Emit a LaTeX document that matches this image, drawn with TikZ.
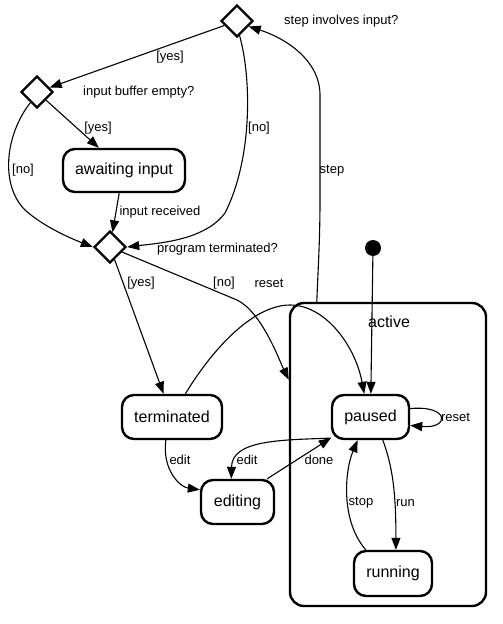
\documentclass[tikz,border=0pt]{standalone}
\usepackage{fontspec}
\setmainfont{Liberation Sans}
\usetikzlibrary{arrows.meta,shapes.geometric}
\begin{document}
\begin{tikzpicture}[x=1pt,y=-1pt,
  state/.style={draw, line width=2.4pt, rounded corners=12pt, inner sep=0pt, font=\fontsize{16}{19}\selectfont},
  choice/.style={draw, diamond, line width=2.4pt, minimum size=32pt, inner sep=0pt},
  lbl/.style={font=\fontsize{13}{15}\selectfont, inner sep=0pt},
  arr/.style={-{Triangle[length=12pt,width=9pt]}, line width=1.1pt},
]
\useasboundingbox (0,0) rectangle (503,624);

% container
\node[draw, line width=2.4pt, rounded corners=14pt, minimum width=196pt, minimum height=303pt] (active) at (388,454.5) {};
\node[font=\fontsize{16}{19}\selectfont, inner sep=0pt] (activelbl) at (389,322) {active};

% decisions
\node[choice] (d1) at (237,21) {};
\node[choice] (d2) at (37,92) {};
\node[choice] (d3) at (110,247) {};
\node[lbl, anchor=west] (q1) at (284,21) {step involves input?};
\node[lbl, anchor=west] (q2) at (83,92) {input buffer empty?};
\node[lbl, anchor=west] (q3) at (157,249) {program terminated?};

% states
\node[state, minimum width=122pt, minimum height=43pt] (aw) at (124,170.5) {awaiting input};
\node[state, minimum width=100pt, minimum height=44pt] (term) at (172,417) {terminated};
\node[state, minimum width=77pt, minimum height=44pt] (paused) at (370.5,417) {paused};
\node[state, minimum width=73pt, minimum height=44pt] (ed) at (237.5,502) {editing};
\node[state, minimum width=78pt, minimum height=45pt] (run) at (393,573.5) {running};
\node[circle, fill, inner sep=0pt, minimum size=16pt] (init) at (373,248) {};

% connectors
\draw[arr] (d1) -- (d2);
\node[lbl] (l1) at (170,57) {[yes]};

\draw[arr] (d1.-80) .. controls (252,80) and (252,160) .. (225,213)
  .. controls (205,240) and (160,243) .. (d3.east);
\node[lbl] (l2) at (259,128) {[no]};

\draw[arr] (d2) -- (aw);
\node[lbl] (l3) at (98,128) {[yes]};

\draw[arr] (d2.-122) .. controls (5,135) and (0,185) .. (25,210)
  .. controls (45,228) and (75,240) .. (d3.west);
\node[lbl] (l4) at (23,170) {[no]};

\draw[arr] (aw.-102) -- (d3);
\node[lbl] (l5) at (160,212) {input received};

\draw[arr] (d3) -- (term);
\node[lbl] (l6) at (141,283) {[yes]};

\draw[arr] (d3) -- (237,300) .. controls (262,312) and (280,362) .. (active.143.8);
\node[lbl] (l7) at (224,283) {[no]};

\draw[arr] (term.60) .. controls (215,345) and (255,305) .. (290,305)
  .. controls (325,305) and (355,345) .. (paused.105);
\node[lbl] (l8) at (269,283) {reset};

\draw[arr] (active.115.3) .. controls (318,270) and (320,240) .. (320,200)
  -- (320,95) .. controls (320,60) and (285,38) .. (d1.-25);
\node[lbl] (l9) at (332,171) {step};

\draw[arr] (init) -- (paused);

\draw[arr] (paused.12) .. controls (450,405) and (450,429) .. (paused.-12);
\node[lbl] (l10) at (455.5,417) {reset};

\draw[arr] (paused.-62) .. controls (392,465) and (396,490) .. (run.83);
\node[lbl] (l11) at (405.5,503) {run};

\draw[arr] (run.139) .. controls (340,520) and (345,470) .. (paused.-119);
\node[lbl] (l12) at (361,503) {stop};

\draw[arr] (term.-105) .. controls (162,470) and (180,487) .. (ed.162);
\node[lbl] (l13) at (180,460) {edit};

\draw[arr] (paused.-152) .. controls (280,440) and (232,440) .. (ed.105);
\node[lbl] (l14) at (247,460) {edit};

\draw[arr] (ed.38) -- (paused.-152);
\node[lbl] (l15) at (319,460) {done};
\end{tikzpicture}
\end{document}
